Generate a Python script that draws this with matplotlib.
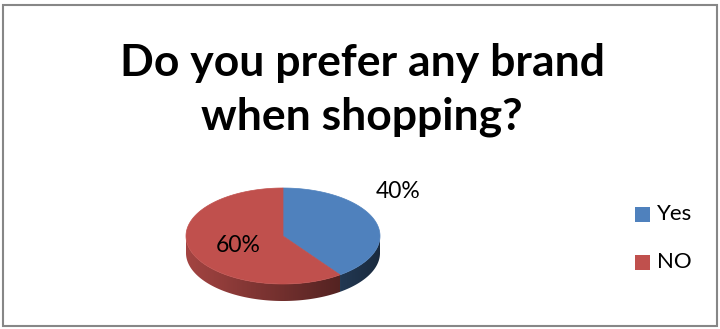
import matplotlib
matplotlib.use("Agg")
import matplotlib.pyplot as plt
import numpy as np
from matplotlib.patches import Polygon, Rectangle

# data
labels = ["Yes", "NO"]
values = [40, 60]
colors = ["#4F81BD", "#C0504D"]
title = "Do you prefer any brand\nwhen shopping?"

plt.rcParams["font.family"] = ["Lato", "DejaVu Sans"]

fig = plt.figure(figsize=(7.2, 3.29), dpi=100)
ax = fig.add_axes([0, 0, 1, 1])
ax.set_xlim(0, 720)
ax.set_ylim(329, 0)
ax.axis("off")

# chart border
ax.add_patch(Rectangle((2.5, 4.5), 714, 321.5, fill=False, edgecolor="#878787", linewidth=1.5))

ax.text(362, 90, title, ha="center", va="center", fontsize=32, fontweight="bold",
        linespacing=1.42, color="black")

# 3d pie geometry (pixels)
cx, cy, rx, ry, depth = 283, 236, 97, 48, 17


def ell(t):
	return cx + rx * np.cos(t), cy - ry * np.sin(t)


total = float(sum(values))
start = 90.0
slices = []
for v, col in zip(values, colors):
	sweep = 360.0 * v / total
	slices.append((np.radians(start - sweep), np.radians(start), col))
	start -= sweep

# side walls (front half only), shaded left->right
for a0, a1, col in slices:
	ts = np.linspace(a0, a1, 400)
	ts = ts[np.sin(ts) <= 0]
	if len(ts) < 2:
		continue
	xs, ys = ell(ts)
	pts = list(zip(xs, ys)) + list(zip(xs[::-1], ys[::-1] + depth))
	poly = Polygon(pts, closed=True, facecolor="none", edgecolor="none")
	ax.add_patch(poly)
	rgb = np.array(matplotlib.colors.to_rgb(col))
	gx = np.linspace(cx - rx, cx + rx, 256)
	f = 0.85 - 0.52 * (gx - (cx - rx)) / (2 * rx)
	img = (f[:, None] * rgb[None, :])[None, :, :]
	im = ax.imshow(img, extent=(cx - rx, cx + rx, cy + ry + depth + 2, cy - 2),
	               aspect="auto", interpolation="bilinear", zorder=1)
	im.set_clip_path(poly)

# top faces
for a0, a1, col in slices:
	ts = np.linspace(a0, a1, 200)
	xs, ys = ell(ts)
	pts = [(cx, cy)] + list(zip(xs, ys))
	ax.add_patch(Polygon(pts, closed=True, facecolor=col, edgecolor=col, linewidth=0.5, zorder=2))

ax.set_xlim(0, 720)
ax.set_ylim(329, 0)

# data labels
label_pos = [(398, 191), (238, 245)]
for v, (lx, ly) in zip(values, label_pos):
	ax.text(lx, ly, f"{v / total:.0%}", ha="center", va="center", fontsize=16.5, color="black", zorder=3)

# legend
for i, (lab, col) in enumerate(zip(labels, colors)):
	ly = 214 + i * 48
	ax.add_patch(Rectangle((635, ly - 7.5), 15, 15, facecolor=col, edgecolor="none"))
	ax.text(657, ly, lab, ha="left", va="center", fontsize=16, color="black")

plt.savefig("out.png", dpi=100)
plt.close()
